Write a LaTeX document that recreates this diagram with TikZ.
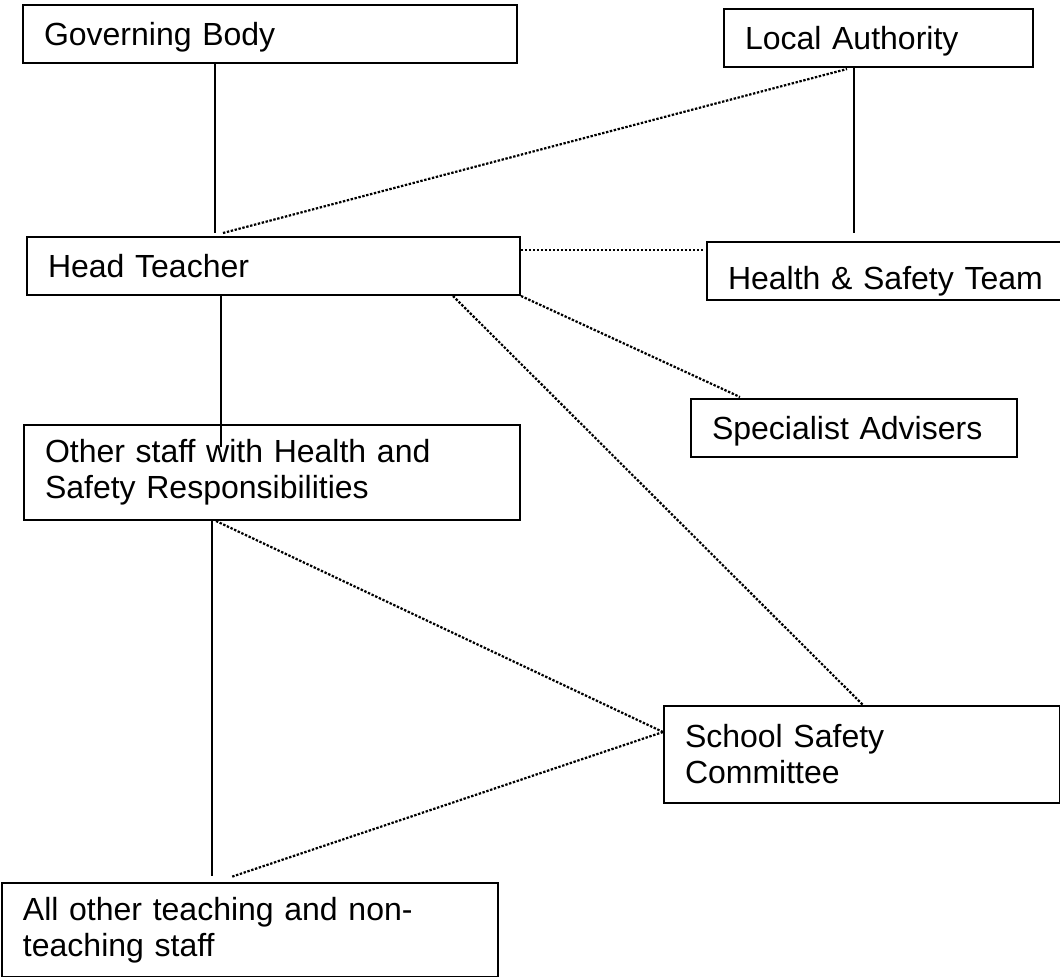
\documentclass[tikz,border=0pt]{standalone}
\usepackage{fontspec}
\setmainfont{Liberation Sans}
\usepackage{tikz}
\usetikzlibrary{calc}

\begin{document}
\begin{tikzpicture}[
    x=0.5pt, y=-0.5pt,
    orgbox/.style={rectangle, draw, line width=1pt, anchor=north west, align=left, inner xsep=10.5pt, inner ysep=0pt, font=\fontsize{16}{18}\selectfont},
    oneline/.style={text height=11.5pt, text depth=0pt, minimum height=29pt},
    solidlink/.style={line width=1pt},
    dotlink/.style={line width=1.1pt, dash pattern=on 1.2pt off 0.8pt},
]
    \useasboundingbox (0,0) rectangle (1060,976);

    % Top row
    \node[orgbox, oneline, text width=226pt] (gov) at (22,4) {Governing Body};
    \node[orgbox, oneline, text width=133.5pt] (la) at (723,8) {Local Authority};

    % Second row
    \node[orgbox, oneline, text width=225.5pt] (head) at (26,236) {Head Teacher};
    \node[orgbox, oneline, text width=159pt, text height=18pt] (hst) at (706,241) {Health \& Safety Team};

    % Middle
    \node[orgbox, oneline, text width=142pt] (spec) at (690,398) {Specialist Advisers};
    \node[orgbox, text width=227pt, minimum height=47.5pt] (other) at (23,424) {Other staff with Health and\\Safety Responsibilities};

    % Bottom
    \node[orgbox, text width=177pt, minimum height=48.5pt] (ssc) at (663,705) {School Safety\\Committee};
    \node[orgbox, text width=227pt, minimum height=47pt] (all) at (1,882) {All other teaching and non-\\teaching staff};

    % Solid lines
    \draw[solidlink] ($(gov.south west)+(193,0)$) -- ($(head.north west)+(189,-3)$);
    \draw[solidlink] ($(la.south west)+(131,0)$) -- ($(hst.north west)+(148,-8)$);
    \draw[solidlink] ($(head.south west)+(195,0)$) -- ($(other.north west)+(198,23)$);
    \draw[solidlink] ($(other.south west)+(189,0)$) -- ($(all.north west)+(211,-6)$);

    % Dotted lines
    \draw[dotlink] ($(head.north west)+(197,-3)$) -- ($(la.south west)+(124,1)$);
    \draw[dotlink] ($(head.north east)+(0,14)$) -- ($(hst.north west)+(-3,9)$);
    \draw[dotlink] (head.south east) -- ($(spec.north west)+(50,-1)$);
    \draw[dotlink] ($(head.south west)+(427,0)$) -- ($(ssc.north west)+(200,0)$);
    \draw[dotlink] ($(other.south west)+(193,0)$) -- ($(ssc.north west)+(0,27)$);
    \draw[dotlink] ($(ssc.north west)+(0,27)$) -- ($(all.north west)+(230,-5)$);

\end{tikzpicture}
\end{document}
